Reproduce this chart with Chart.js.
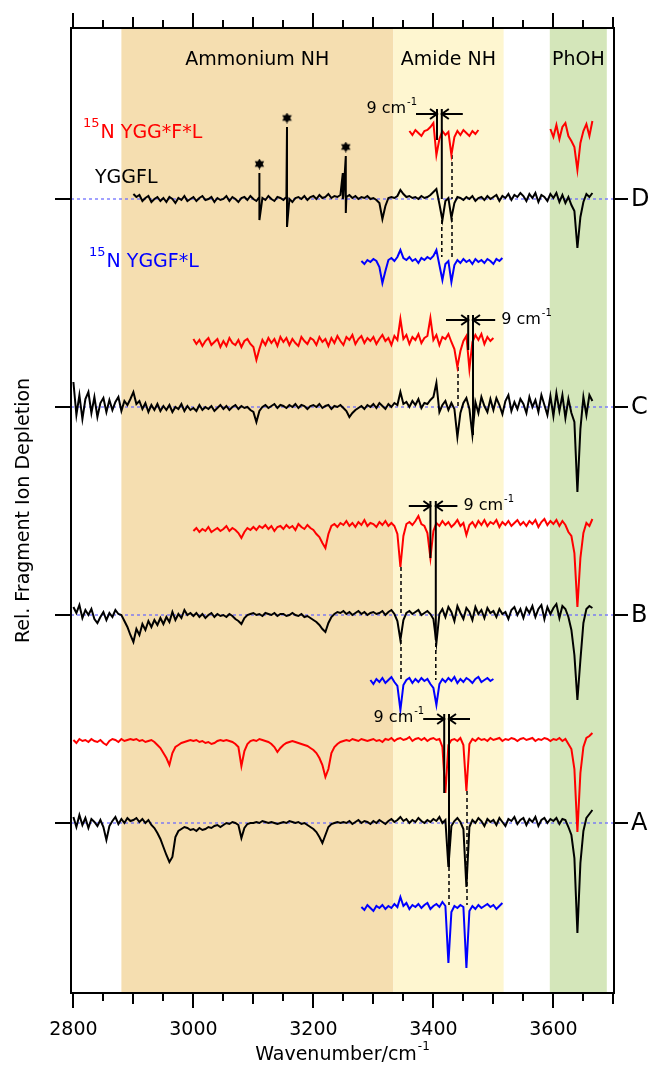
<!DOCTYPE html>
<html>
<head>
<meta charset="utf-8">
<script src="https://cdn.jsdelivr.net/npm/chart.js@4.4.1/dist/chart.umd.min.js"></script>
<style>
  body { margin: 0; background: #fff; }
  canvas { display: block; }
</style>
</head>
<body>
<canvas id="spectra" width="649" height="1069"></canvas>
<script>
// every trace is sampled on a 5 cm-1 grid, values = depletion relative to its own baseline
const STEP = 5;

const wavenumberLabels = [2800, 3000, 3200, 3400, 3600];
const panelNames = ['D', 'C', 'B', 'A'];
const regionNames = ['Ammonium NH', 'Amide NH', 'PhOH'];
const regionFrom = [2880, 3333, 3594];
const regionTo = [3333, 3517, 3689];

// ---- panel D ----
const dRedAmide = [2, -2, 3, 0, -3, 2, 3, 6, 10, -22,
  -6, 2, -2, 1, -22, -4, 2, -2, 3, 0,
  -3, 2, -1, 3];                                   // 3360 .. 3475
const dRedPhoh = [4, -4, 8, -6, 6, 10, -3, -8, -14, -37, -10, 2, 9, -3, 12];   // 3595 .. 3665
const dBlack = [5, 2, 4, -2, 1, 3, -3, 0, 2, -2,
  1, -3, 2, 0, -4, 1, -1, 3, -2, 0,
  2, -2, 1, 3, -1, 0, 2, -3, 1, -1,
  0, 3, -2, 2, 0, -3, 1, 2, -1, 3,
  0, -2, 2, 1, -1, 3, 0, -2, 2, 1,
  -1, 2, 0, -3, 1, 2, 0, 3, -1, 2,
  3, 0, 4, 1, 2, 5, 1, 3, 2, 4,
  3, 2, 4, 1, 3, 0, 2, 1, 3, 0,
  1, -1, -4, -20, -7, 1, 2, 1, 3, 9,
  5, 2, 3, 1, 2, 0, 3, 1, 2, 4,
  7, 10, -5, -21, -2, 1, -19, -4, 2, 1,
  -1, 2, 0, 3, -2, 1, 2, -1, 3, 0,
  2, 4, -2, 3, 1, 5, -1, 4, 2, 6,
  3, -2, 5, 1, 6, -3, 4, 2, -2, 5,
  1, 6, -3, 4, -4, 2, -6, -12, -49, -18,
  -3, 5, 2, 6];                                    // 2900 .. 3665
const dBlackSpikes = [[3110, 26, -21], [3156, 72, -28], [3249, 26, 0], [3254, 43, -14]];
const starred = [3110, 3156, 3254];
const dBlue = [1, -2, 2, 0, 3, 1, -5, -21, -9, 2,
  4, 1, 5, 12, 4, 2, 5, 1, 3, -1,
  4, 2, 5, 3, 6, 12, -3, -18, -2, 1,
  -20, -3, 2, -1, 3, 0, 2, -2, 3, 0,
  2, -1, 3, 1, -2, 3, 1, 4];                      // 3280 .. 3515

// ---- panel C ----
const cRed = [4, -1, 3, -3, 2, 5, -2, 1, 4, -4,
  2, -3, 5, 0, -2, 3, -4, 2, 4, -1,
  -4, -17, -6, 3, -2, 5, 0, 4, -3, 6,
  1, 5, -2, 4, 0, -3, 6, 2, -1, 5,
  3, -2, 6, 1, 4, -3, 5, 0, 7, 2,
  -2, 6, 3, 8, -1, 4, 7, 0, 5, 2,
  6, -1, 4, 8, 2, 5, -2, 7, 3, 24,
  4, 8, -1, 6, 3, 9, 0, 5, 7, 25,
  3, 8, -2, 6, 4, 9, 1, -6, -24, -8,
  2, 7, -26, 1, 8, 3, 9, -1, 6, 2,
  5];                                              // 3000 .. 3500
const cBlack = [25, -8, 12, -12, 8, 15, -6, 10, -10, 4,
  9, -5, 7, -3, 5, 10, -4, 6, 2, 8,
  15, 3, 6, -2, 4, -5, 2, -3, 3, -4,
  1, -3, 2, -5, 0, -2, 3, -4, 1, -3,
  -1, -4, 2, -3, 0, -2, 1, -4, -1, 2,
  -2, 1, -3, 0, 2, -2, 1, -1, 0, -3,
  -5, -15, -4, 0, 2, -1, 1, 3, -1, 2,
  1, -1, 2, 0, 3, -1, 2, 1, -2, 1,
  2, 0, 3, -1, 1, 2, -2, 1, 0, 2,
  -1, -4, -10, -6, -3, -1, 1, -2, 2, 0,
  3, -1, 4, 1, -2, 3, 0, 4, 2, 15,
  3, 5, 0, 6, 2, 8, -1, 4, 3, 7,
  10, 24, -5, 2, 6, -3, 4, -2, -30, -6,
  4, 9, -2, -28, 5, -6, 10, 1, -5, 8,
  -3, 9, 2, -7, 6, 12, -4, 5, -2, 8,
  3, -6, 10, 0, 7, -5, 12, 2, -8, 11,
  -9, 14, -4, 12, -11, 8, -6, -15, -85, -22,
  10, -8, 12, 6];                                  // 2800 .. 3665

// ---- panel B ----
const bRed = [-3, 0, -4, -1, -3, 1, -4, -2, 0, -3,
  -1, 2, -3, 0, -2, -5, -10, -4, 0, -2,
  1, -2, 2, 0, 3, -1, 2, -3, 1, 2,
  -1, 3, 0, 2, -2, 4, 1, -1, 3, 0,
  -2, -6, -9, -15, -20, -6, 2, 4, 1, 5,
  3, 7, 2, 5, 1, 6, 3, 8, 2, 5,
  4, 1, 6, 3, 7, 2, 5, 2, -6, -39,
  -8, 4, 6, 3, 7, 12, 4, 2, -5, -30,
  -3, 5, 2, 7, 3, 6, 1, 4, 8, 2,
  5, -7, 3, 6, 1, 7, 3, 8, 2, 6,
  4, 8, 1, 6, 3, 7, 2, 5, 8, 3,
  6, 2, 7, 4, 8, 1, 6, 9, 3, 7,
  4, 8, 2, 7, 3, -4, -8, -25, -79, -30,
  -5, 5, 2, 9];                                    // 3000 .. 3665
const bBlack = [8, 2, 10, -3, 5, 0, 6, -4, -8, -2,
  3, -5, 2, -2, 5, 1, 0, -6, -12, -20,
  -27, -14, -20, -9, -15, -6, -12, -5, -10, -3,
  -9, -2, -7, 3, -5, 1, -3, 5, 0, 2,
  -1, 2, -2, 1, -3, 0, 2, -2, 1, -1,
  0, -2, 1, -1, -4, -6, -9, -3, 0, 1,
  2, 0, 1, -1, 2, 1, 0, 2, -1, 1,
  1, -1, 0, 2, 0, -1, 1, -2, -1, -3,
  -5, -7, -10, -14, -17, -8, -2, 1, 3, 2,
  4, 1, 3, 0, 2, 4, 1, 3, 0, 2,
  3, 1, 2, 4, 0, 3, 5, 1, -6, -25,
  -5, 2, 4, 1, 3, 5, 0, 2, 4, 1,
  -4, -28, 1, 6, -2, 8, 3, -6, 9, 2,
  -4, 7, 3, -5, 8, 1, 5, -3, 7, 2,
  4, -2, 6, 1, 3, -4, 5, 8, 0, 6,
  -3, 7, 2, 9, -2, 6, 10, -4, 8, 1,
  7, 11, -3, 9, 6, -2, -15, -40, -85, -45,
  -8, 6, 9, 7];                                    // 2800 .. 3665
const bBlue = [2,
  -2, 3, 0, 4, -1, 2, 5, 0, -4, -28,
  -3, 2, 4, -1, 3, 0, 4, 1, 3, -2,
  -6, -23, -2, 3, 0, 4, 1, 5, -1, 3,
  0, 4, 2, -1, 3, 5, 0, 2, 4, 1,
  3];                                              // 3295 .. 3500

// ---- panel A ----
const aRed = [1, -2, 2, 0, 1, -1, 2, 0, -1, 1,
  -2, -4, 0, 2, 1, -1, 2, 0, 1, 2,
  1, 2, 0, 1, -1, 0, 1, -1, -4, -7,
  -12, -17, -24, -12, -6, -4, -2, -1, 0, 1,
  0, 1, -1, 0, -2, -1, -3, -2, 0, 1,
  0, 1, 0, -1, -3, -6, -25, -10, -3, 0,
  1, 0, 2, 1, 0, -1, -3, -6, -11, -7,
  -4, -2, -1, 0, -1, -2, -3, -4, -5, -7,
  -9, -12, -17, -24, -36, -28, -12, -6, -3, -1,
  0, 1, 0, 2, 1, 0, 2, 1, 0, 1,
  2, 0, 1, -1, 2, 1, 3, 0, 2, 3,
  1, 2, 4, 0, 2, 3, 1, 3, 0, 2,
  3, 1, 2, -6, -52, -4, 1, 2, 0, 3,
  -4, -50, -3, 2, 0, 3, 1, 2, 0, 3,
  1, 2, 3, 0, 2, 1, 3, 2, 0, 2,
  3, 1, 2, 3, 0, 2, 1, 3, 2, 0,
  2, 1, 3, 0, 2, -3, -8, -28, -91, -32,
  -6, 3, 5, 8];                                    // 2800 .. 3665
const aBlack = [6, -4, 8, -2, 5, -5, 4, 1, -3, 3,
  -4, -17, -3, 2, 6, -1, 4, 0, 5, 2,
  3, 5, 1, 4, 0, 3, -2, -5, -10, -16,
  -24, -32, -39, -34, -14, -8, -6, -4, -5, -7,
  -6, -8, -5, -7, -6, -4, -5, -3, -2, -4,
  -2, 0, -1, 1, 0, -2, -15, -5, -1, 0,
  0, 1, 0, 2, 1, 0, 1, 0, -1, 0,
  1, 0, 2, 1, 0, 1, -1, 0, -2, -4,
  -6, -9, -14, -20, -12, -4, -1, 0, 1, 0,
  1, 0, 2, -1, 1, 3, 0, 2, 1, -1,
  2, 0, 3, 1, -1, 2, 4, 1, 3, 6,
  2, 4, 0, 3, 1, 5, 2, 0, 3, 1,
  4, 2, 6, 0, 3, -44, -3, 2, 5, 1,
  -6, -64, -4, 3, 0, 5, 2, -3, 4, 1,
  3, -2, 5, 1, -3, 4, 2, 6, -1, 3,
  5, -2, 4, 1, 6, -3, 3, 5, 0, 4,
  2, 5, -1, 4, 3, -4, -12, -35, -110, -40,
  -8, 5, 9, 13];                                   // 2800 .. 3665
const aBlue = [1, -2, 3, 0, -3, 2, 0, 3, -1, 2,
  0, 4, 1, 11, 2, 5, -1, 3, 1, 4,
  0, 3, 5, -1, 2, 4, 1, 6, 2, -55,
  -4, 2, 0, 3, 1, -60, -3, 2, -1, 3,
  0, 2, 4, 1, 3, -1, 2, 5];                       // 3280 .. 3515

// "9 cm-1" splittings: the two marked bands of each panel (D, C, B, A)
const splitLo = [3406, 3458, 3395, 3418];
const splitHi = [3414, 3466, 3404, 3426];

// ---------- layout (y in plot units, 0 = bottom of frame) ----------
const BLACK = '#000', RED = '#ff0000', BLUE = '#0000ff';
const panelBase = [794, 586, 378, 170];
const traces = [
  { color: RED,   base: 860, parts: [[3360, dRedAmide], [3595, dRedPhoh]] },
  { color: BLACK, base: 794, parts: [[2900, dBlack]], spikes: dBlackSpikes },
  { color: BLUE,  base: 731, parts: [[3280, dBlue]] },
  { color: RED,   base: 650, parts: [[3000, cRed]] },
  { color: BLACK, base: 586, parts: [[2800, cBlack]] },
  { color: RED,   base: 465, parts: [[3000, bRed]] },
  { color: BLACK, base: 378, parts: [[2800, bBlack]] },
  { color: BLUE,  base: 311, parts: [[3295, bBlue]] },
  { color: RED,   base: 252, parts: [[2800, aRed]] },
  { color: BLACK, base: 170, parts: [[2800, aBlack]] },
  { color: BLUE,  base: 85,  parts: [[3280, aBlue]] }
];
const arrowY = [879, 673, 487, 274];
const arrowTail = [35, 37, 36, 35];             // cm-1 from each marked line
const loBottom = [853, 643, 435, 200];
const hiBottom = [794, 558, 353, 126];
const noteSide = ['left', 'right', 'right', 'left'];
// dashed guides: [wavenumber, from, to]
const guides = [
  [3431, 838, 794], [3414, 773, 736], [3431, 775, 736],
  [3441, 626, 586],
  [3346, 426, 378], [3346, 353, 313], [3404, 350, 313],
  [3456, 202, 88], [3426, 126, 88]
];

function buildPoints(t) {
  const pts = [];
  t.parts.forEach(([from, vals], k) => {
    if (k > 0) pts.push({ x: from - STEP, y: null });
    vals.forEach((v, i) => pts.push({ x: from + i * STEP, y: t.base + v }));
  });
  (t.spikes || []).forEach(([wn, up, down]) => {
    pts.push({ x: wn, y: t.base + up }, { x: wn, y: t.base + down });
  });
  return pts.sort((p, q) => p.x - q.x);
}

function hexagram(size) {
  const c = document.createElement('canvas');
  c.width = c.height = size;
  const g = c.getContext('2d');
  const r = size / 2;
  g.fillStyle = '#000';
  [-Math.PI / 2, Math.PI / 2].forEach(rot => {
    g.beginPath();
    for (let k = 0; k < 3; k++) {
      const a = rot + k * 2 * Math.PI / 3;
      g.lineTo(r + r * Math.cos(a), r + r * Math.sin(a));
    }
    g.closePath();
    g.fill();
  });
  return c;
}

const datasets = [];
panelBase.forEach(b => datasets.push({
  data: [{ x: 2796, y: b }, { x: 3701, y: b }],
  borderColor: '#6464ff', borderWidth: 1.2, borderDash: [3, 3], order: 10
}));
guides.forEach(([wn, y0, y1]) => datasets.push({
  data: [{ x: wn, y: y0 }, { x: wn, y: y1 }],
  borderColor: BLACK, borderWidth: 1.5, borderDash: [4, 3], order: 5
}));
splitLo.forEach((wn, i) => {
  const top = arrowY[i] + 5;
  datasets.push({ data: [{ x: wn, y: top }, { x: wn, y: loBottom[i] }], borderColor: BLACK, borderWidth: 2, order: 0 });
  datasets.push({ data: [{ x: splitHi[i], y: top }, { x: splitHi[i], y: hiBottom[i] }], borderColor: BLACK, borderWidth: 2, order: 0 });
});
traces.forEach(t => datasets.push({
  data: buildPoints(t), borderColor: t.color, borderWidth: 2, spanGaps: false, order: 1
}));
datasets.push({
  data: dBlackSpikes.filter(s => starred.includes(s[0])).map(s => ({ x: s[0], y: 794 + s[1] + 9 })),
  showLine: false, pointStyle: hexagram(11), pointRadius: 5.5, order: 0
});

const FONT = '"DejaVu Sans", sans-serif';

function textSup(ctx, x, y, main, sup, size, align) {
  ctx.font = `${size}px ${FONT}`;
  const w1 = ctx.measureText(main).width;
  ctx.font = `${Math.round(size * 0.65)}px ${FONT}`;
  const w2 = ctx.measureText(sup).width;
  let left = x;
  if (align === 'right') left = x - w1 - w2 - 1;
  if (align === 'center') left = x - (w1 + w2 + 1) / 2;
  ctx.textAlign = 'left';
  ctx.textBaseline = 'middle';
  ctx.font = `${size}px ${FONT}`;
  ctx.fillText(main, left, y);
  ctx.font = `${Math.round(size * 0.65)}px ${FONT}`;
  ctx.fillText(sup, left + w1 + 1, y - size * 0.42);
}

function preSup(ctx, x, y, sup, main, size) {
  ctx.textAlign = 'left';
  ctx.textBaseline = 'middle';
  ctx.font = `${Math.round(size * 0.7)}px ${FONT}`;
  ctx.fillText(sup, x, y - size * 0.5);
  const w = ctx.measureText(sup).width;
  ctx.font = `${size}px ${FONT}`;
  ctx.fillText(main, x + w + 1, y);
}

function arrow(ctx, x0, x1, y) {
  const d = Math.sign(x1 - x0);
  ctx.beginPath();
  ctx.moveTo(x0, y); ctx.lineTo(x1, y);
  ctx.moveTo(x1 - d * 7, y - 5); ctx.lineTo(x1, y); ctx.lineTo(x1 - d * 7, y + 5);
  ctx.stroke();
}

const decor = {
  id: 'decor',
  beforeDatasetsDraw(chart) {
    const { ctx, chartArea: a, scales: { x } } = chart;
    const fills = ['#f5deb0', '#fef6d0', '#d4e6ba'];
    ctx.save();
    regionFrom.forEach((from, i) => {
      const l = x.getPixelForValue(from), r = x.getPixelForValue(regionTo[i]);
      ctx.fillStyle = fills[i];
      ctx.fillRect(l, a.top, r - l, a.bottom - a.top);
    });
    ctx.restore();
  },
  afterDraw(chart) {
    const { ctx, chartArea: a, scales: { x, y } } = chart;
    ctx.save();
    ctx.strokeStyle = BLACK;
    ctx.fillStyle = BLACK;
    ctx.lineWidth = 2;
    ctx.strokeRect(a.left, a.top, a.right - a.left, a.bottom - a.top);

    // wavenumber ticks, top and bottom
    ctx.beginPath();
    for (let wn = 2800; wn <= 3700; wn += 50) {
      const len = wn % 200 === 0 ? 15 : wn % 100 === 0 ? 11 : 8;
      const px = Math.round(x.getPixelForValue(wn));
      ctx.moveTo(px, a.bottom); ctx.lineTo(px, a.bottom + len);
      ctx.moveTo(px, a.top); ctx.lineTo(px, a.top - len);
    }
    // panel ticks
    panelBase.forEach(b => {
      const py = Math.round(y.getPixelForValue(b));
      ctx.moveTo(a.left - 16, py); ctx.lineTo(a.left, py);
      ctx.moveTo(a.right, py); ctx.lineTo(a.right + 14, py);
    });
    ctx.stroke();

    ctx.font = `19px ${FONT}`;
    ctx.textAlign = 'center';
    ctx.textBaseline = 'middle';
    wavenumberLabels.forEach(wn => ctx.fillText(String(wn), x.getPixelForValue(wn), a.bottom + 37));

    ctx.font = `24px ${FONT}`;
    ctx.textAlign = 'left';
    panelNames.forEach((n, i) => ctx.fillText(n, a.right + 17, y.getPixelForValue(panelBase[i]) + 1));

    // region titles
    ctx.font = `19px ${FONT}`;
    ctx.textAlign = 'center';
    regionNames.forEach((n, i) => ctx.fillText(n, x.getPixelForValue((regionFrom[i] + regionTo[i]) / 2), a.top + 32));

    // trace labels
    ctx.fillStyle = BLACK;
    ctx.font = `19px ${FONT}`;
    ctx.textAlign = 'left';
    ctx.fillText('YGGFL', x.getPixelForValue(2836), y.getPixelForValue(traces[1].base + 21));
    ctx.fillStyle = RED;
    preSup(ctx, x.getPixelForValue(2816), y.getPixelForValue(traces[0].base), '15', 'N YGG*F*L', 19);
    ctx.fillStyle = BLUE;
    preSup(ctx, x.getPixelForValue(2826), y.getPixelForValue(traces[2].base), '15', 'N YGGF*L', 19);

    // 9 cm-1 arrows
    ctx.fillStyle = BLACK;
    ctx.lineWidth = 2;
    splitLo.forEach((lo, i) => {
      const hi = splitHi[i];
      const py = y.getPixelForValue(arrowY[i]);
      const lt = x.getPixelForValue(lo - arrowTail[i]);
      const rt = x.getPixelForValue(hi + arrowTail[i]);
      arrow(ctx, lt, x.getPixelForValue(lo), py);
      arrow(ctx, rt, x.getPixelForValue(hi), py);
      if (noteSide[i] === 'left') textSup(ctx, lt + 1, py - (i === 0 ? 5 : 1), '9 cm', '-1', 16, 'right');
      else textSup(ctx, rt + 6, py, '9 cm', '-1', 16, 'left');
    });

    // axis titles
    textSup(ctx, (a.left + a.right) / 2, 1055, 'Wavenumber/cm', '-1', 19, 'center');
    ctx.translate(24, (a.top + a.bottom) / 2);
    ctx.rotate(-Math.PI / 2);
    ctx.font = `19px ${FONT}`;
    ctx.textAlign = 'center';
    ctx.fillText('Rel. Fragment Ion Depletion', 0, 0);
    ctx.restore();
  }
};

new Chart(document.getElementById('spectra'), {
  type: 'line',
  data: { datasets },
  options: {
    responsive: false,
    animation: false,
    devicePixelRatio: 1,
    events: [],
    layout: { padding: { left: 71, right: 35, top: 28, bottom: 76 } },
    elements: { point: { radius: 0 }, line: { tension: 0 } },
    scales: {
      x: { type: 'linear', min: 2796, max: 3701, display: false },
      y: { type: 'linear', min: 0, max: 965, display: false }
    },
    plugins: { legend: { display: false }, tooltip: { enabled: false } }
  },
  plugins: [decor]
});
</script>
</body>
</html>
